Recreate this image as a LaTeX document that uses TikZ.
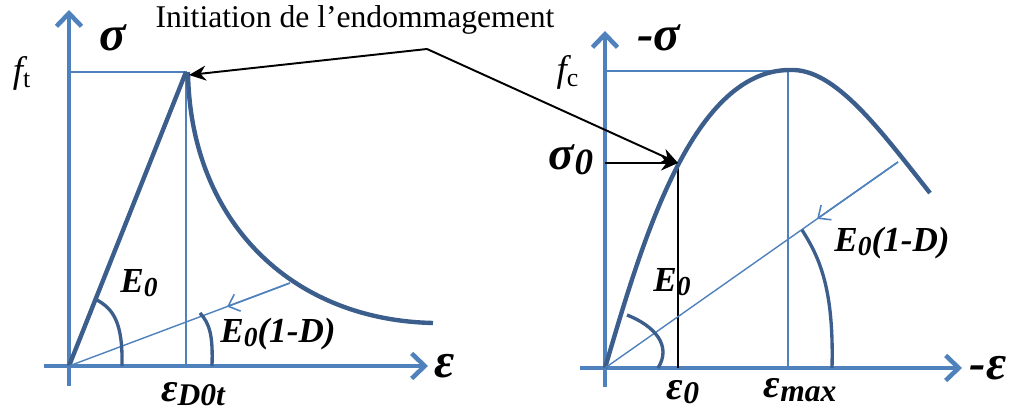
\documentclass[tikz,border=0pt]{standalone}
\usepackage{fontspec}
\setmainfont{Liberation Serif}
\usepackage{tikz}
\usetikzlibrary{arrows.meta, calc}
\definecolor{cAxis}{RGB}{79,129,189}
\definecolor{cCurve}{RGB}{60,94,140}
\newcommand{\lo}[1]{\raisebox{-0.25ex}{\scalebox{0.78}{#1}}}
\tikzset{
	axisline/.style={draw=cAxis, line width=2.6pt, -{Straight Barb[length=2.6mm, width=5mm, line width=2.6pt]}},
	thinline/.style={draw=cAxis, line width=0.8pt},
	curveline/.style={draw=cCurve, line width=2.5pt},
	arcline/.style={draw=cCurve, line width=1.9pt},
	unload/.style={draw=cAxis, line width=0.9pt, -{Straight Barb[length=2mm, width=3.6mm, line width=0.9pt]}},
	callout/.style={draw=black, line width=1.1pt, -{Stealth[length=3.4mm, width=3mm]}},
	lbl/.style={font=\fontsize{20}{22}\selectfont\bfseries\itshape, inner sep=0pt},
	% greek letters on the axes
	glbl/.style={font=\fontsize{28}{30}\selectfont\bfseries\itshape, inner sep=0pt},
	flbl/.style={font=\fontsize{21}{23}\selectfont\itshape, inner sep=0pt},
	elbl/.style={font=\fontsize{23}{25}\selectfont\bfseries\itshape, inner sep=0pt},
}

\begin{document}
\begin{tikzpicture}[x=0.2mm, y=-0.2mm]
	\useasboundingbox (0,0) rectangle (1011,414);

	% ---- traction (left)
	\coordinate (oL) at (69,366);
	\coordinate (pL) at (186,72);
	\coordinate (uL) at (290,283);
	\draw[axisline] (69,386) -- (69,10);
	\draw[axisline] (44,366) -- (428,366);
	\draw[thinline] (69,72) -- (pL) -- (186,366);
	\draw[curveline] (oL) -- (pL);
	\draw[curveline] (188,72) .. controls (190,220) and (290,320) .. (433,323);
	\draw[thinline] (uL) -- (oL);
	\draw[unload] (uL) -- ($(uL)!0.285!(oL)$);
	\draw[arcline] (97,300) .. controls (113,309) and (123,322) .. (122,366);
	\draw[arcline] (200,313) .. controls (210,324) and (213,336) .. (212,366);

	\node[flbl] (ft) at (22,73) {f\textsubscript{\upshape t}};
	\node[glbl] (sigL) at (113,38) {σ};
	\node[glbl] (epsL) at (445,366) {ε};
	\node[elbl] (eD) at (193,394) {ε\lo{D0t}};
	\node[lbl] (E0L) at (139,283) {E\lo{0}};
	\node[lbl] (EdL) at (278,334) {E\lo{0}(1-D)};

	% ---- compression (right)
	\coordinate (oR) at (605,368);
	\coordinate (pR) at (790,70);
	\coordinate (s0) at (678,163);
	\coordinate (uR) at (898,162);
	\draw[axisline] (605,387) -- (605,31);
	\draw[axisline] (580,368) -- (962,368);
	\draw[thinline] (605,71) -- (788,71) -- (788,368);
	\draw[line width=0.8pt] (s0) -- (678,368);
	\draw[curveline] (oR) .. controls (640,250) and (690,70) .. (pR)
		.. controls (835,68) and (880,130) .. (930,193);
	\draw[thinline] (uR) -- (oR);
	\draw[unload] (uR) -- ($(uR)!0.276!(oR)$);
	\draw[arcline] (627,315) .. controls (655,326) and (672,346) .. (658,368);
	\draw[arcline] (802,230) .. controls (820,258) and (834,290) .. (832,368);

	\node[flbl] (fc) at (568,72) {f\textsubscript{\upshape c}};
	\node[glbl] (sigR) at (659,38) {-σ};
	\node[glbl] (epsR) at (988,368) {-ε};
	\node[lbl, font=\fontsize{27}{29}\selectfont\bfseries\itshape] (sig0) at (571,160) {σ\lo{0}};
	\node[elbl] (e0) at (683,392) {ε\lo{0}};
	\node[elbl] (emax) at (800,390) {ε\lo{max}};
	\node[lbl] (E0R) at (672,282) {E\lo{0}};
	\node[lbl] (EdR) at (892,243) {E\lo{0}(1-D)};

	% ---- callout
	\node[font=\fontsize{18}{20}\selectfont, inner sep=0pt] (init) at (355,20) {Initiation de l’endommagement};
	\coordinate (split) at (427,49);
	\draw[callout] (split) -- (189,75);
	\draw[callout] (split) -- (s0);
	\draw[callout] (605,163) -- (s0);
\end{tikzpicture}
\end{document}
